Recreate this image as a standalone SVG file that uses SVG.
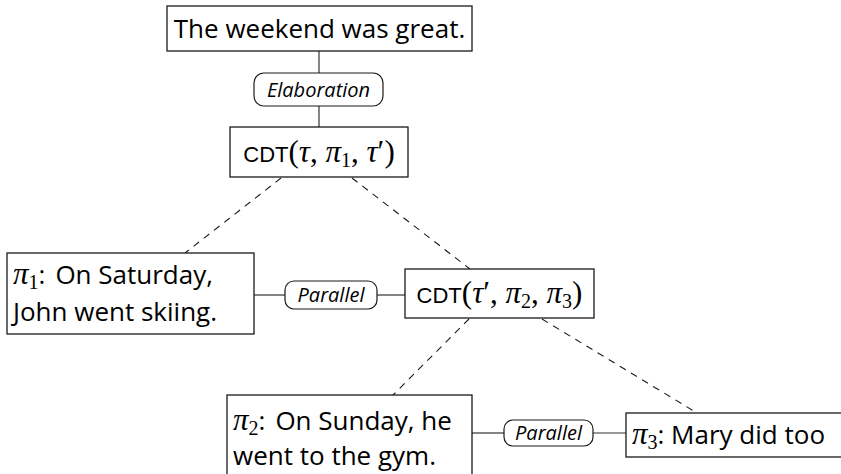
<svg xmlns="http://www.w3.org/2000/svg" width="841" height="474" viewBox="0 0 841 474">
  <style>
    .box { fill: #ffffff; stroke: #1a1a1a; stroke-width: 1.3; }
    .pill { fill: #ffffff; stroke: #1a1a1a; stroke-width: 1.2; }
    .edge { stroke: #333333; stroke-width: 1.2; fill: none; }
    .dash { stroke: #1a1a1a; stroke-width: 1.1; fill: none; stroke-dasharray: 7 6; }
    .txt { font-family: "Open Sans", "Noto Sans", sans-serif; font-size: 26px; fill: #000000; }
    .rel { font-family: "Open Sans", "Noto Sans", sans-serif; font-style: italic; font-size: 20px; fill: #000000; }
    .sf { font-family: "Liberation Sans", Arial, sans-serif; font-size: 22px; fill: #000000; }
    .m { font-family: "Liberation Serif", "DejaVu Serif", serif; font-size: 31px; }
    .mi { font-family: "Liberation Serif", "DejaVu Serif", serif; font-style: italic; font-size: 31px; }
    .sub { font-family: "Liberation Serif", "DejaVu Serif", serif; font-size: 20px; }
  </style>

  <!-- connectors -->
  <g id="connectors">
    <line class="edge" x1="319" y1="51" x2="319" y2="73"/>
    <line class="edge" x1="319" y1="106" x2="319" y2="127"/>
    <line class="edge" x1="254" y1="295" x2="285" y2="295"/>
    <line class="edge" x1="377" y1="295" x2="405" y2="295"/>
    <line class="edge" x1="472" y1="433" x2="504" y2="433"/>
    <line class="edge" x1="593" y1="433" x2="626" y2="433"/>
    <line class="dash" x1="281" y1="178" x2="185" y2="253"/>
    <line class="dash" x1="352" y1="178" x2="470" y2="269"/>
    <line class="dash" x1="469" y1="319" x2="393" y2="395"/>
    <line class="dash" x1="542" y1="319" x2="697" y2="413"/>
  </g>

  <!-- top statement -->
  <g id="n-weekend">
    <rect class="box" x="167" y="6" width="305" height="45"/>
    <text class="txt" x="319.5" y="38" text-anchor="middle">The weekend was great.</text>
  </g>

  <!-- relation: Elaboration -->
  <g id="r-elaboration">
    <rect class="pill" x="254" y="73" width="129" height="33" rx="10"/>
    <text class="rel" x="318.5" y="97" text-anchor="middle">Elaboration</text>
  </g>

  <!-- CDT(tau, pi1, tau') -->
  <g id="n-cdt1">
    <rect class="box" x="230" y="127" width="178" height="50"/>
    <text x="319" y="162" text-anchor="middle"><tspan class="sf">CDT</tspan><tspan class="m">(</tspan><tspan class="mi">τ</tspan><tspan class="m">, </tspan><tspan class="mi">π</tspan><tspan class="sub" dy="5">1</tspan><tspan class="m" dy="-5">, </tspan><tspan class="mi">τ</tspan><tspan class="m">′)</tspan></text>
  </g>

  <!-- pi1 -->
  <g id="n-pi1">
    <rect class="box" x="7" y="253" width="247" height="81"/>
    <text x="13" y="284"><tspan class="mi">π</tspan><tspan class="sub" dy="5">1</tspan><tspan class="txt" dy="-5">:</tspan><tspan class="txt" dx="10">On Saturday,</tspan><tspan class="txt" x="13" y="321">John went skiing.</tspan></text>
  </g>

  <!-- relation: Parallel (upper) -->
  <g id="r-parallel1">
    <rect class="pill" x="285" y="281" width="92" height="28" rx="9"/>
    <text class="rel" x="331" y="302" text-anchor="middle">Parallel</text>
  </g>

  <!-- CDT(tau', pi2, pi3) -->
  <g id="n-cdt2">
    <rect class="box" x="405" y="269" width="189" height="49"/>
    <text x="499.5" y="303" text-anchor="middle"><tspan class="sf">CDT</tspan><tspan class="m">(</tspan><tspan class="mi">τ</tspan><tspan class="m">′, </tspan><tspan class="mi">π</tspan><tspan class="sub" dy="5">2</tspan><tspan class="m" dy="-5">, </tspan><tspan class="mi">π</tspan><tspan class="sub" dy="5">3</tspan><tspan class="m" dy="-5">)</tspan></text>
  </g>

  <!-- pi2 -->
  <g id="n-pi2">
    <rect class="box" x="227" y="395" width="245" height="90"/>
    <text x="233" y="430"><tspan class="mi">π</tspan><tspan class="sub" dy="5">2</tspan><tspan class="txt" dy="-5">:</tspan><tspan class="txt" dx="10">On Sunday, he</tspan><tspan class="txt" x="233" y="465">went to the gym.</tspan></text>
  </g>

  <!-- relation: Parallel (lower) -->
  <g id="r-parallel2">
    <rect class="pill" x="504" y="420" width="89" height="26" rx="9"/>
    <text class="rel" x="548.5" y="440" text-anchor="middle">Parallel</text>
  </g>

  <!-- pi3 -->
  <g id="n-pi3">
    <rect class="box" x="626" y="413" width="220" height="44"/>
    <text x="632" y="444"><tspan class="mi">π</tspan><tspan class="sub" dy="5">3</tspan><tspan class="txt" dy="-5">: Mary did too</tspan></text>
  </g>
</svg>
